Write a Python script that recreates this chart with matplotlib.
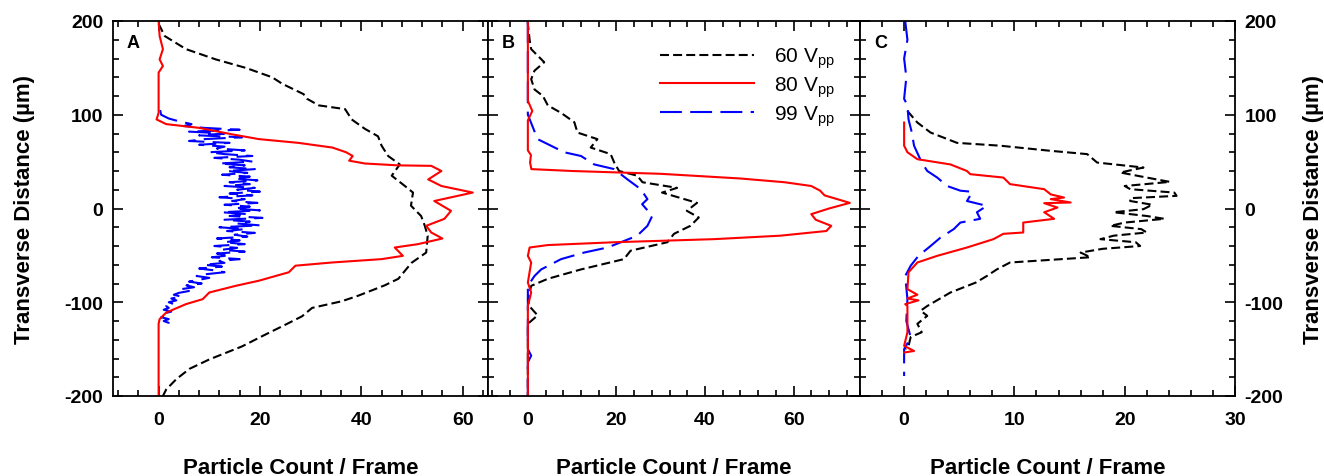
import matplotlib
matplotlib.use("Agg")
import matplotlib.pyplot as plt
from matplotlib.ticker import MultipleLocator

plt.rcParams['font.family'] = ['Liberation Sans', 'DejaVu Sans']
plt.rcParams['mathtext.fontset'] = 'custom'
plt.rcParams['mathtext.rm'] = 'Liberation Sans'
plt.rcParams['mathtext.it'] = 'Liberation Sans:italic'
plt.rcParams['mathtext.bf'] = 'Liberation Sans:bold'
plt.rcParams['axes.unicode_minus'] = False

# ---------------- data ----------------
series_labels = ['60 V$_{\\mathrm{pp}}$', '80 V$_{\\mathrm{pp}}$', '99 V$_{\\mathrm{pp}}$']
panel_letters = ['A', 'B', 'C']
x_label = 'Particle Count / Frame'
y_label = 'Transverse Distance (\u00b5m)'

# Panel A
yA60 = [197, 184, 170, 159, 150, 140, 133, 122, 117, 110, 106, 95, 85, 77, 67, 56, 47, 35, 24, 17, 3,
        -8, -18, -29, -47, -58, -75, -82, -93, -99, -106, -115, -124, -136, -147, -161, -171, -182, -193, -200]
xA60 = [0, 1.2, 5.4, 11.3, 17.2, 22.4, 24.4, 28.6, 29.3, 31.6, 36.8, 38.1, 40.7, 43.3, 44, 45.3, 47.6, 46,
        48.6, 50.2, 49.8, 51.8, 52.5, 53.1, 52.8, 49.9, 47.3, 44.6, 39.4, 36.1, 30.3, 28.3, 25, 20.5, 16.5,
        10, 6.1, 3.5, 1.5, 0.85]

yA80 = [200, 184, 170, 159, 152, 145, 102, 95, 90, 86, 79, 74, 70, 65, 60, 56, 51, 48, 46, 45.5, 40, 31,
        24, 17, 8, -2.5, -11, -18.5, -25.6, -32, -38, -41.6, -50.5, -54, -57.6, -61, -68, -77, -82.5, -89.6,
        -96.7, -102, -111, -118, -123, -200]
xA80 = [0, 0.2, 0.85, 0.2, 0.85, 0, 0, -0.4, 1.5, 8, 14.6, 19.8, 27.6, 34.3, 37, 38.3, 37.6, 40.7, 47.3,
        53.8, 55.8, 53.2, 55.8, 62, 54.4, 57.7, 56.4, 52.8, 53.8, 56, 51.2, 46.6, 48.2, 44, 34.2, 27, 25.7,
        19.8, 15.2, 10, 8.7, 5.4, 1.5, 0.2, 0, 0]

yA99 = [105, 100, 96, 93, 90, 88, 86, 84, 82, 80, 78, 76, 74, 72, 70, 68, 66, 64, 62, 60, 58, 56, 54, 52,
        50, 48, 46, 44, 42, 40, 38, 36, 34, 32, 30, 28, 26, 24, 22, 20, 18, 16, 14, 12, 10, 8, 6, 4, 2, 0,
        -2, -4, -6, -8, -10, -12, -14, -16, -18, -20, -22, -24, -26, -28, -30, -32, -34, -36, -38, -40,
        -42, -44, -46, -48, -50, -52, -54, -56, -58, -60, -62, -64, -66, -68, -70, -72, -74, -76, -78, -80,
        -82, -84, -86, -88, -90, -92, -94, -96, -98, -100, -102, -104, -106, -108, -110, -112, -114, -116,
        -118, -120, -122, -124]
xA99 = [0.3, 0.5, 2, 4, 6.5, 5, 9, 16, 6, 13, 8, 16.5, 9, 6, 14, 8, 13, 11.5, 17, 10, 13, 18.5, 11, 16,
        18.5, 12, 17, 14, 19, 13.5, 17.5, 12.5, 18, 15, 19.5, 14, 18, 13, 19, 15.5, 20, 14, 18.5, 12, 17,
        14.5, 19.5, 13, 18, 15, 20, 12.5, 17.5, 14, 20.5, 13, 18, 15.5, 20, 12, 17, 13.5, 19, 15, 17.5,
        11.5, 16, 13, 17, 11, 15.5, 12.5, 17, 11.5, 14, 10.5, 16, 12, 13, 9, 12.5, 8, 11, 13, 9.5, 7.5, 10,
        8, 6, 8.5, 5.5, 7, 4.5, 6, 4, 3, 4.5, 2.5, 3.5, 2, 3, 1.5, 2, 1, 2.5, 1, 1.5, 0.5, 2, 1, 2, 0.5]

# Panel B
yB60 = [200, 197, 180, 170, 156, 147, 138, 127, 120, 110, 102, 92, 81, 74, 65, 58, 49, 40, 35, 28, 22,
        17, 6, -2.5, -9.6, -18.5, -27, -36, -45, -54, -65, -75, -82.5, -96.7, -105, -114, -123, -200]
xB60 = [0, 0, 0.4, 0.75, 3.7, 1.5, 0.75, 1.5, 3.4, 4.5, 7.5, 10.5, 11.2, 15.7, 14.2, 18.7, 19.5, 20.6,
        24.7, 25.9, 33.7, 30.3, 38.2, 35.9, 38.6, 36.7, 33, 31.5, 23.2, 21.7, 12, 4.5, 0.75, 0, 0.5, 2.2, 0, 0]

yB80 = [200, 115, 104, 94, 62, 57, 49, 42, 40, 37, 32, 28, 24, 19, 14, 6, 0, -6, -12, -18.5, -24, -29,
        -32.7, -36, -39, -41.6, -50.5, -57.6, -79, -89.6, -104, -200]
xB80 = [0, 0, 1, 0, 0, 0.7, 0.5, 0.8, 10, 30, 48, 58, 64, 66, 67, 72.7, 68, 64, 65, 68.5, 67.4, 57, 42,
        19.5, 4.5, 0.4, 0, 0.75, 0, 0.75, 0, 0]

yB99 = [200, 100, 74, 67, 60, 56, 47, 42, 31, 20.6, 10, 4.6, -7.8, -18.5, -29, -36, -41.6, -47, -54, -65,
        -72, -82.5, -150, -157, -164, -200]
xB99 = [0, 0, 2.2, 5.2, 8.2, 12, 15, 19.5, 22.5, 25.5, 27, 25.8, 28.1, 27, 24.7, 21, 18, 12.7, 7.5, 3,
        1.5, 0, 0, 0.75, 0, 0]

# Panel C
yC60 = [104, 91.7, 81, 70, 67, 61.5, 58, 49, 43.7, 38.4, 33, 28.4, 24, 20.6, 17, 13.5, 11, 8, 4, -0.7,
        -4, -8, -11, -15, -18.5, -22, -25.6, -29, -32.7, -36, -40, -43, -47, -52, -57.6, -65, -72, -79,
        -89.6, -104, -109, -114.5, -123, -132, -137, -146.5, -150]
xC60 = [0.3, 1.2, 2.4, 4.8, 8.7, 13.3, 16.6, 17.5, 21.7, 19.6, 22, 24.1, 20, 20.5, 24.5, 24.7, 20.5,
        20.5, 22.5, 21.7, 19, 22, 23.6, 20, 18.7, 21.5, 22, 19, 17.8, 21, 21.4, 18, 16, 16.9, 9.6, 8.4,
        7.5, 6.5, 4.2, 2.1, 1.5, 2.1, 1.2, 1.6, 0.6, 0.4, 0.1]

yC80 = [91.7, 67, 60, 52.6, 47, 40, 36.6, 33, 26, 20.6, 15, 11.7, 10, 6.4, 5.7, 1, -4, -11, -15, -25.6,
        -27, -32.7, -41.6, -50.5, -57.6, -68, -86, -92, -96, -98, -102, -104, -132, -146.5, -152, -153.6]
xC80 = [0, 0, 0.3, 1.2, 4.2, 5.7, 6, 9, 9.6, 12.7, 13.3, 14.5, 13.3, 15.1, 12.7, 13.9, 12.7, 13.6, 10.8,
        10.8, 9, 8.1, 5.7, 3, 1.2, 0.4, 0.3, 1.2, 0.3, 1.3, 0.1, 0.3, 0.3, 0, 0.9, 0]

yC99 = [200, 180, 160, 140, 117, 110, 95, 81, 67, 49, 40, 33, 24, 19, 17.8, 8, 2.8, -4, -11, -15, -22,
        -31, -40, -50.5, -61, -72, -96.7, -120, -137.6, -150, -178.7]
xC99 = [0.1, 0.3, 0.0, 0.2, 0, 0.3, 0.4, 0.7, 0.9, 1.6, 2.1, 3, 3.9, 5.1, 6.2, 5.7, 7.5, 6.6, 6.9, 5.1,
        4.5, 3.3, 2.4, 1.3, 0.6, 0.1, 0.3, 0.2, 0.6, 0, 0]

panels = [
    dict(data=[(xA60, yA60), (xA80, yA80), (xA99, yA99)], xlim=(-9, 65), xmaj=20, xmin=4),
    dict(data=[(xB60, yB60), (xB80, yB80), (xB99, yB99)], xlim=(-9, 75), xmaj=20, xmin=4),
    dict(data=[(xC60, yC60), (xC80, yC80), (xC99, yC99)], xlim=(-4, 30), xmaj=10, xmin=2),
]

styles = [
    dict(color='black', lw=1.5, ls=(0, (4.3, 2.0))),
    dict(color='#ff0000', lw=1.5, ls='-'),
    dict(color='#0000ff', lw=1.5, ls=(0, (10.5, 4.0))),
]

W, H = 1324, 477
fig = plt.figure(figsize=(W / 100, H / 100), dpi=100)
edges = [113, 488, 860, 1235]
top_px, bot_px = 22, 397

axes = []
for i, p in enumerate(panels):
    l = edges[i] / W
    r = edges[i + 1] / W
    ax = fig.add_axes([l, 1 - bot_px / H, r - l, (bot_px - top_px) / H])
    axes.append(ax)
    order = [0, 2, 1]
    for k in order:
        xs, ys = p['data'][k]
        ax.plot(xs, ys, label=series_labels[k], **styles[k])
    ax.set_xlim(*p['xlim'])
    ax.set_ylim(-200, 200)
    ax.xaxis.set_major_locator(MultipleLocator(p['xmaj']))
    ax.xaxis.set_minor_locator(MultipleLocator(p['xmin']))
    ax.yaxis.set_major_locator(MultipleLocator(100))
    ax.yaxis.set_minor_locator(MultipleLocator(20))
    ax.tick_params(which='both', direction='in', top=True, bottom=True, left=True, right=True,
                   width=1.2, labelsize=14)
    ax.tick_params(which='major', length=7)
    ax.tick_params(which='minor', length=4.3)
    ax.tick_params(axis='x', pad=11)
    for s in ax.spines.values():
        s.set_linewidth(1.3)
    for t in ax.get_xticklabels():
        t.set_fontweight('bold')
    ax.set_xlabel(x_label, fontsize=16, fontweight='bold', labelpad=21)
    ax.text(0.037, 0.943, panel_letters[i], transform=ax.transAxes, fontsize=13,
            fontweight='bold', ha='left', va='center')

# y labels
axes[0].tick_params(axis='y', labelleft=True, labelright=False, pad=7)
axes[1].tick_params(axis='y', labelleft=False, labelright=False)
axes[2].tick_params(axis='y', labelleft=False, labelright=True, pad=7)
for ax in (axes[0], axes[2]):
    for t in ax.get_yticklabels():
        t.set_fontweight('bold')

axes[0].set_ylabel(y_label, fontsize=16, fontweight='bold', labelpad=21)
axes[2].yaxis.set_label_position('right')
axes[2].set_ylabel(y_label, fontsize=16, fontweight='bold', labelpad=14, rotation=90)

# legend in panel B
h, lab = axes[1].get_legend_handles_labels()
idx = [lab.index(s) for s in series_labels]
leg = axes[1].legend([h[j] for j in idx], [lab[j] for j in idx], loc='upper left',
                     bbox_to_anchor=(0.4636, 0.934), frameon=False, fontsize=15,
                     handlelength=4.5, handletextpad=0.95, labelspacing=0.2,
                     borderpad=0.0, borderaxespad=0.0)

fig.savefig('out.png', dpi=100)
